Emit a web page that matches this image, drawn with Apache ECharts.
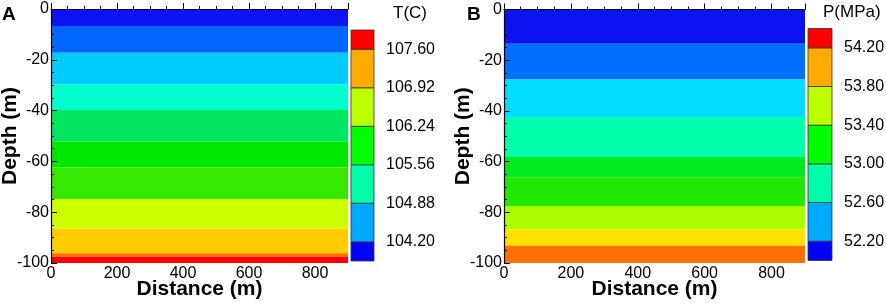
<!DOCTYPE html>
<html>
<head>
<meta charset="utf-8">
<script src="https://cdn.jsdelivr.net/npm/echarts@6/dist/echarts.min.js"></script>
<style>html,body{margin:0;padding:0;background:#fff}#c{width:886px;height:304px}</style>
</head>
<body>
<div id="c"></div>
<script>
// ---- data ----
const distanceRange = [0, 900];
const depthTicks = [0, -20, -40, -60, -80, -100];
// Panel A: temperature band boundaries (depth, m), top to bottom
const bandEdgesA = [0, -6.7, -17.2, -29.7, -39.8, -52.2, -62.3, -74.8, -86.4, -96.2, -97.5, -100];
// Panel B: pressure band boundaries (depth, m)
const bandEdgesB = [0, -13.5, -27.6, -42.4, -58.2, -66.2, -77.5, -86.7, -93.2, -100];
// colour-bar tick labels (bottom to top)
const legendLabelsA = ['104.20', '104.88', '105.56', '106.24', '106.92', '107.60'];
const legendLabelsB = ['52.20', '52.60', '53.00', '53.40', '53.80', '54.20'];
const legendTitleA = 'T(C)';
const legendTitleB = 'P(MPa)';

// ---- styles ----
const bandColorsA = ['#0a14f5', '#0066ff', '#00ccff', '#00ffcc', '#00e65e', '#00e800', '#38e800', '#ccff00', '#ffcc00', '#ff7000', '#ff0000'];
const bandColorsB = ['#0a14f0', '#0070ff', '#00ddff', '#00ffaa', '#00ea22', '#22e800', '#aaff00', '#ffe000', '#ff7000'];
const legendColors = ['#0000ff', '#00aaff', '#00ffaa', '#00ff00', '#bbff00', '#ffaa00', '#ff0000']; // bottom to top
const FONT = 'Arial, "Liberation Sans", sans-serif';

function bandData(edges) {
  const out = [];
  for (let i = 0; i < edges.length - 1; i++) out.push([distanceRange[0], distanceRange[1], edges[i], edges[i + 1], i]);
  return out;
}
function legendData() {
  // cells in half-unit coordinates: bottom half cell 0..1, full cells of 2, top half cell 11..12
  const edges = [0, 1, 3, 5, 7, 9, 11, 12];
  const out = [];
  for (let i = 0; i < edges.length - 1; i++) out.push([0, 1, edges[i], edges[i + 1], i]);
  return out;
}
function rectRender(colors, stroke) {
  return function (params, api) {
    const p0 = api.coord([api.value(0), api.value(2)]);
    const p1 = api.coord([api.value(1), api.value(3)]);
    const style = { fill: colors[api.value(4)] };
    if (stroke) { style.stroke = '#333'; style.lineWidth = 0.8; }
    return {
      type: 'rect',
      shape: { x: p0[0], y: Math.min(p0[1], p1[1]), width: p1[0] - p0[0], height: Math.abs(p1[1] - p0[1]) },
      style: style
    };
  };
}

const axisCommonX = (gi) => ({
  gridIndex: gi, type: 'value', min: distanceRange[0], max: distanceRange[1], interval: 200, z: 10,
  name: 'Distance (m)', nameLocation: 'middle', nameGap: 16, nameMoveOverlap: false,
  nameTextStyle: { fontFamily: FONT, fontWeight: 'bold', fontSize: 21, color: '#000' },
  axisLine: { show: true, lineStyle: { color: '#000', width: 1.2 } },
  axisTick: { show: true, inside: true, length: 6, lineStyle: { color: '#000' } },
  minorTick: { show: true, splitNumber: 4, length: 3, lineStyle: { color: '#000' } },
  axisLabel: { fontFamily: FONT, fontSize: 16, color: '#000', margin: 3, showMaxLabel: false },
  splitLine: { show: false }
});
const axisCommonY = (gi) => ({
  gridIndex: gi, type: 'value', min: -100, max: 0, interval: 20, z: 10,
  name: 'Depth (m)', nameLocation: 'middle', nameGap: 30, nameRotate: 90, nameMoveOverlap: false,
  nameTextStyle: { fontFamily: FONT, fontWeight: 'bold', fontSize: 21, color: '#000' },
  axisLine: { show: true, onZero: false, lineStyle: { color: '#000', width: 1.2 } },
  axisTick: { show: true, inside: true, length: 6, lineStyle: { color: '#000' } },
  minorTick: { show: true, splitNumber: 4, length: 3, lineStyle: { color: '#000' } },
  axisLabel: { fontFamily: FONT, fontSize: 16, color: '#000', margin: 2,
    formatter: v => depthTicks.includes(v) ? String(v) : '' },
  splitLine: { show: false }
});
const legendX = (gi) => ({ gridIndex: gi, type: 'value', min: 0, max: 1, show: false });
const legendY = (gi, labels) => ({
  gridIndex: gi, type: 'value', min: 0, max: 12, interval: 1, position: 'right',
  axisLine: { show: false }, axisTick: { show: false }, splitLine: { show: false },
  axisLabel: { fontFamily: FONT, fontSize: 16, color: '#000', margin: 12,
    formatter: v => (v % 2 === 1) ? labels[(v - 1) / 2] : '' }
});

const chart = echarts.init(document.getElementById('c'), null, { renderer: 'canvas' });
chart.setOption({
  animation: false,
  backgroundColor: '#fff',
  grid: [
    { left: 51, top: 9, width: 297, height: 254, containLabel: false, outerBoundsMode: 'none' },
    { left: 504, top: 9.5, width: 301, height: 253.5, containLabel: false, outerBoundsMode: 'none' },
    { left: 351, top: 30, width: 23, height: 231, containLabel: false, outerBoundsMode: 'none' },
    { left: 808, top: 28.5, width: 24, height: 232, containLabel: false, outerBoundsMode: 'none' }
  ],
  xAxis: [axisCommonX(0), axisCommonX(1), legendX(2), legendX(3)],
  yAxis: [axisCommonY(0), axisCommonY(1), legendY(2, legendLabelsA), legendY(3, legendLabelsB)],
  series: [
    { type: 'custom', xAxisIndex: 0, yAxisIndex: 0, data: bandData(bandEdgesA), renderItem: rectRender(bandColorsA, false), clip: true },
    { type: 'custom', xAxisIndex: 1, yAxisIndex: 1, data: bandData(bandEdgesB), renderItem: rectRender(bandColorsB, false), clip: true },
    { type: 'custom', xAxisIndex: 2, yAxisIndex: 2, data: legendData(), renderItem: rectRender(legendColors, true) },
    { type: 'custom', xAxisIndex: 3, yAxisIndex: 3, data: legendData(), renderItem: rectRender(legendColors, true) }
  ],
  graphic: [
    { type: 'text', left: 2, top: 5, style: { text: 'A', font: 'bold 19px ' + FONT, fill: '#000' } },
    { type: 'text', left: 467, top: 5, style: { text: 'B', font: 'bold 19px ' + FONT, fill: '#000' } },
    { type: 'text', left: 393, top: 5, style: { text: legendTitleA, font: '17px ' + FONT, fill: '#000' } },
    { type: 'text', left: 823, top: 4, style: { text: legendTitleB, font: '17px ' + FONT, fill: '#000' } }
  ]
});
</script>
</body>
</html>
